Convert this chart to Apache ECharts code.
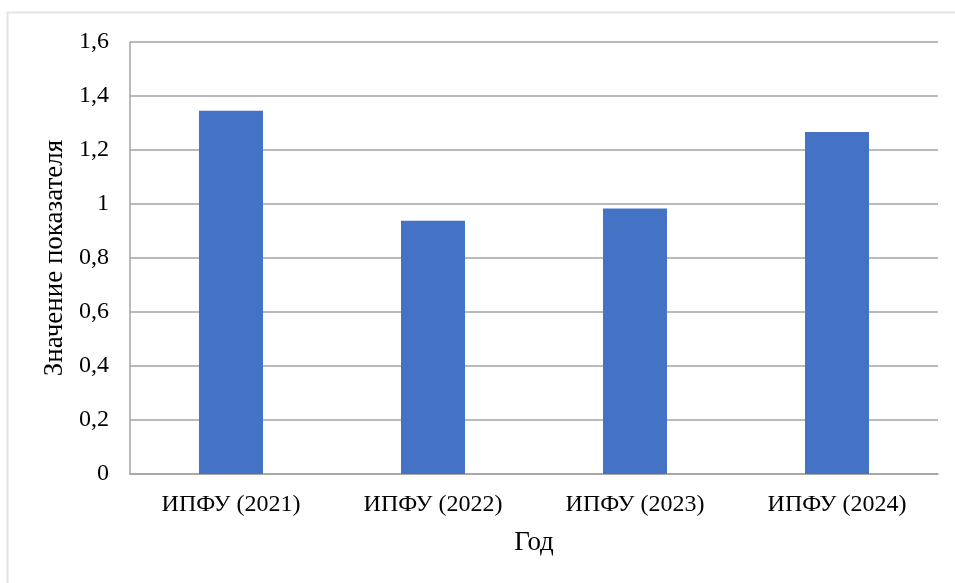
<!DOCTYPE html>
<html>
<head>
<meta charset="utf-8">
<script src="https://cdn.jsdelivr.net/npm/echarts@6/dist/echarts.min.js"></script>
<style>
  html, body { margin: 0; padding: 0; background: #fff; }
  #chart { width: 955px; height: 583px; }
</style>
</head>
<body>
<div id="chart"></div>
<script>
// Indicator values by year
const categories = ['ИПФУ (2021)', 'ИПФУ (2022)', 'ИПФУ (2023)', 'ИПФУ (2024)'];
const values = [1.345, 0.938, 0.983, 1.267];
const yTicks = { min: 0, max: 1.6, step: 0.2 };
const xTitle = 'Год';
const yTitle = 'Значение показателя';

const FONT = '"Liberation Serif", "Times New Roman", serif';
const GRID_COLOR = '#a3a3a3';

const chart = echarts.init(document.getElementById('chart'), null, { renderer: 'canvas' });

chart.setOption({
  backgroundColor: '#ffffff',
  animation: false,
  graphic: [{
    type: 'rect',
    shape: { x: 7.5, y: 12.5, width: 960, height: 600 },
    style: { fill: 'none', stroke: '#e3e3e3', lineWidth: 2 },
    silent: true,
    z: -1
  }],
  grid: { left: 130, right: 17, top: 42, bottom: 109, containLabel: false },
  xAxis: {
    type: 'category',
    data: categories,
    name: xTitle,
    nameLocation: 'middle',
    nameGap: 55,
    nameTextStyle: { fontFamily: FONT, fontSize: 27, color: '#000' },
    axisLine: { show: true, lineStyle: { color: GRID_COLOR, width: 1.5 } },
    axisTick: { show: false },
    axisLabel: { fontFamily: FONT, fontSize: 24, color: '#000', margin: 19 }
  },
  yAxis: {
    type: 'value',
    min: yTicks.min,
    max: yTicks.max,
    interval: yTicks.step,
    name: yTitle,
    nameLocation: 'middle',
    nameGap: 52,
    nameTextStyle: { fontFamily: FONT, fontSize: 27, color: '#000' },
    axisLine: { show: true, lineStyle: { color: GRID_COLOR, width: 1.5 } },
    axisTick: { show: false },
    axisLabel: {
      fontFamily: FONT, fontSize: 24, color: '#000', margin: 21,
      formatter: v => String(Math.round(v * 10) / 10).replace('.', ',')
    },
    splitLine: { show: true, lineStyle: { color: GRID_COLOR, width: 1.5 } }
  },
  series: [{
    type: 'bar',
    data: values,
    barWidth: 64,
    itemStyle: { color: '#4472C4' }
  }]
});
</script>
</body>
</html>
